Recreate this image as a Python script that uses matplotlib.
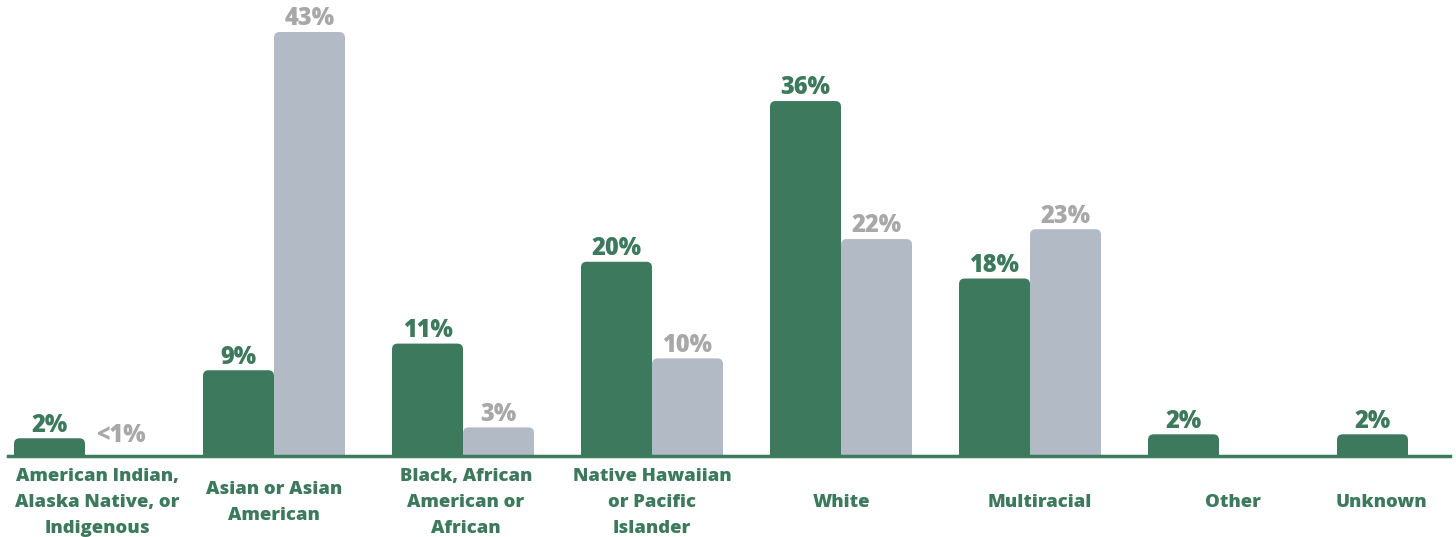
import matplotlib.pyplot as plt
from matplotlib.patches import FancyBboxPatch

categories = ["American Indian,\nAlaska Native, or\nIndigenous", "Asian or Asian\nAmerican",
              "Black, African\nAmerican or\nAfrican", "Native Hawaiian\nor Pacific\nIslander",
              "White", "Multiracial", "Other", "Unknown"]
green_vals = [1.8, 8.7, 11.4, 19.7, 36.0, 18.0, 2.2, 2.2]
gray_vals = [0.0, 43.0, 2.9, 9.9, 22.0, 23.0, None, None]
green_labels = ["2%", "9%", "11%", "20%", "36%", "18%", "2%", "2%"]
gray_labels = ["<1%", "43%", "3%", "10%", "22%", "23%", None, None]

GREEN = "#3d7a5d"
GRAY = "#b1bac5"
GRAY_TXT = "#a8a8a8"
FONT = "Open Sans"

# label x shifts in px (layout only)
label_shift = [12, 0, 3, 0, 0, 10, 14, -27]

fig = plt.figure(figsize=(14.56, 5.37), dpi=100)
ax = fig.add_axes([8 / 1456, 81 / 537, 1442 / 1456, 456 / 537])
ax.set_xlim((8 - 85) / 189, (1450 - 85) / 189)
ax.set_ylim(0, 456 / 9.86)
ax.axis("off")

w = 71 / 189
r = 0.03
asp = (6 / 9.86) / (6 / 189)


def rbar(x0, h, color):
    p = FancyBboxPatch((x0, -2), w, h + 2, boxstyle=f"round,pad=0,rounding_size={r}",
                       mutation_aspect=asp, fc=color, ec="none")
    ax.add_patch(p)


for i, cat in enumerate(categories):
    gx = i - w
    rbar(gx, green_vals[i], GREEN)
    ax.annotate(green_labels[i], (gx + w / 2, green_vals[i]), xytext=(0, 0.5),
                textcoords="offset points", ha="center", va="bottom",
                fontsize=17, fontweight=800, family=FONT, color=GREEN)
    if gray_vals[i] is not None:
        if gray_vals[i] > 0:
            rbar(i, gray_vals[i], GRAY)
        ax.annotate(gray_labels[i], (i + w / 2, max(gray_vals[i], 0.7)), xytext=(0, 0.5),
                    textcoords="offset points", ha="center", va="bottom",
                    fontsize=17, fontweight=800, family=FONT, color=GRAY_TXT)
    ax.text(i + label_shift[i] / 189, -46.5 / 9.86, cat, ha="center", va="center",
            fontsize=13.3, fontweight=800, family=FONT, color=GREEN, linespacing=1.7,
            clip_on=False)

ax.axhline(0, color=GREEN, lw=2.5, clip_on=False)

fig.savefig("out.png", dpi=100)
